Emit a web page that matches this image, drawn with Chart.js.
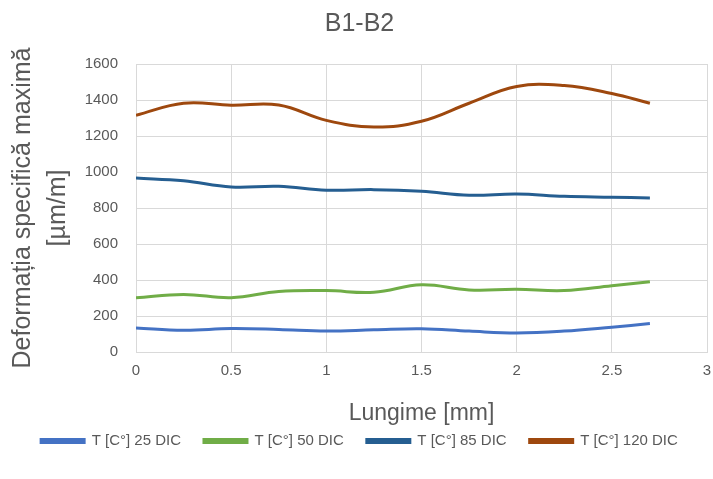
<!DOCTYPE html>
<html><head><meta charset="utf-8">
<script src="https://cdn.jsdelivr.net/npm/chart.js@4"></script>
<style>html,body{margin:0;padding:0;background:#fff}#wrap{width:713px;height:479px}</style>
</head><body><div id="wrap"><canvas id="c" width="713" height="479"></canvas></div>
<script>
const lungime = [0, 0.25, 0.5, 0.75, 1, 1.25, 1.5, 1.75, 2, 2.25, 2.5, 2.7];
const t25 = [134, 121, 130, 125, 116, 123, 129, 116, 106, 116, 138, 158];
const t50 = [302, 320, 302, 336, 341, 332, 373, 345, 348, 341, 368, 390];
const t85 = [966, 951, 917, 921, 899, 902, 893, 871, 878, 865, 860, 856];
const t120 = [1315, 1382, 1371, 1372, 1287, 1250, 1282, 1382, 1475, 1480, 1436, 1382];
const seriesNames = ['T [C°] 25 DIC', 'T [C°] 50 DIC', 'T [C°] 85 DIC', 'T [C°] 120 DIC'];
const xTicks = [0, 0.5, 1, 1.5, 2, 2.5, 3];
const yTicks = [0, 200, 400, 600, 800, 1000, 1200, 1400, 1600];
const colors = ['#4472C4', '#70AD47', '#255E91', '#9E480E'];
const FONT = "'Liberation Sans', Arial, sans-serif";
const grey = '#595959';

const mk = (vals, i) => ({
  label: seriesNames[i],
  data: lungime.map((x, k) => ({x: x, y: vals[k]})),
  borderColor: colors[i], backgroundColor: colors[i],
  borderWidth: 3, pointRadius: 0, tension: 0.4, fill: false
});

new Chart(document.getElementById('c'), {
  type: 'line',
  data: { datasets: [mk(t25,0), mk(t50,1), mk(t85,2), mk(t120,3)] },
  options: {
    responsive: false, animation: false,
    layout: { padding: { left: 12, right: 6, top: 0, bottom: 20.5 } },
    plugins: {
      title: { display: true, text: 'B1-B2', color: grey,
        font: { family: FONT, size: 25, weight: 'normal', lineHeight: 1.2 }, padding: { top: 9, bottom: 25 } },
      legend: { position: 'bottom',
        labels: { color: grey, font: { family: FONT, size: 15 }, boxWidth: 43, boxHeight: 3, padding: 23 } },
      tooltip: { enabled: false }
    },
    scales: {
      x: { type: 'linear', min: 0, max: 3,
        afterBuildTicks: s => { s.ticks = xTicks.map(v => ({value: v})); },
        afterFit: s => { s.height = 58.5; },
        grid: { color: '#d9d9d9', lineWidth: 1, drawTicks: true, tickLength: 10, tickColor: 'rgba(0,0,0,0)' },
        border: { color: '#d9d9d9' },
        ticks: { color: grey, font: { family: FONT, size: 15 }, padding: 0, maxRotation: 0,
          callback: v => String(v) },
        title: { display: true, text: 'Lungime [mm]', color: grey,
          font: { family: FONT, size: 23, lineHeight: 1.2 }, padding: { top: 0, bottom: -17.3 } } },
      y: { min: 0, max: 1600,
        afterBuildTicks: s => { s.ticks = yTicks.map(v => ({value: v})); },
        afterFit: s => { s.width = 124; },
        grid: { color: '#d9d9d9', lineWidth: 1, drawTicks: false },
        border: { color: '#d9d9d9' },
        ticks: { color: grey, font: { family: FONT, size: 15 }, padding: 18,
          callback: v => String(v) },
        title: { display: true, text: ['Deformația specifică maximă', '[µm/m]'], color: grey,
          font: { family: FONT, size: 25, lineHeight: 1.4 }, padding: { top: -6.5, bottom: 0 } } }
    }
  }
});
</script></body></html>
